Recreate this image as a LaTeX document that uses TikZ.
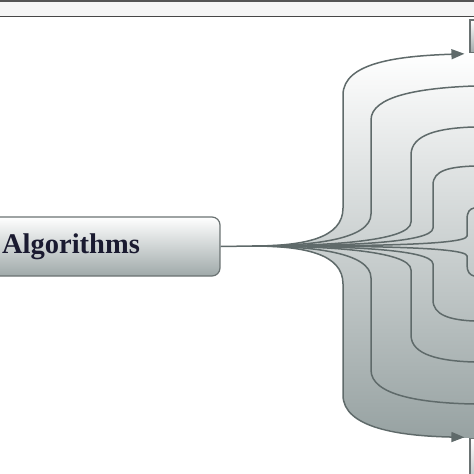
\documentclass[tikz,border=0pt]{standalone}
\usepackage{fontspec}
\setmainfont{Liberation Serif}
\usetikzlibrary{arrows.meta}
\definecolor{linegray}{HTML}{5F6A6A}
\definecolor{boxborder}{HTML}{6A7272}
\definecolor{boxgray}{HTML}{9FA9A9}
\definecolor{fillgray}{HTML}{97A2A2}
\definecolor{fillmid}{HTML}{DDE2E2}
\definecolor{textnavy}{HTML}{1A1A30}
\tikzset{
  algbox/.style={rectangle, rounded corners=8pt, draw=boxborder, line width=1.2pt,
    top color=white, bottom color=boxgray, text=textnavy, inner sep=0pt},
  leafbox/.style={rectangle, draw=boxborder, line width=1.2pt,
    top color=white, bottom color=boxgray, inner sep=0pt},
  conn/.style={draw=linegray, line width=1.5pt},
  arr/.style={conn, -{Triangle[length=13pt,width=10pt]}, shorten >=5pt},
}
\begin{document}
\begin{tikzpicture}[x=1pt,y=-1pt]
\useasboundingbox (0,0) rectangle (474,474);
\clip (0,0) rectangle (474,474);
% top strip
\fill[black!67] (0,0) rectangle (474,2);
\fill[black!4] (0,2) rectangle (474,16);
\draw[black!72, line width=1pt] (0,16.5) -- (474,16.5);
% nodes
\node[algbox, minimum width=298pt, minimum height=59pt,
  font=\fontsize{28.5}{34}\selectfont\bfseries] (alg) at (71,246.5) {\raisebox{2pt}{Algorithms}};
\node[leafbox, minimum width=60pt, minimum height=33pt] (t1) at (500,36.5) {};
\node[leafbox, minimum width=60pt, minimum height=60pt] (t2) at (500,468) {};
\coordinate (fan) at (252,246);
\coordinate (e2) at (474,86);
\coordinate (e3) at (474,127);
\coordinate (e4) at (474,166);
\coordinate (e5) at (474,208);
\coordinate (f2) at (474,404);
\coordinate (f3) at (474,362);
\coordinate (f4) at (474,321);
\coordinate (f5) at (474,276);
% gradient fill of the fan
\shade[top color=white, middle color=fillmid, bottom color=fillgray]
  (fan) .. controls (305,246) and (343,238) .. (343,208) -- (343,95)
  .. controls (343,62) and (400,56) .. (470,53) -- (474,53) -- (474,438) -- (470,438)
  .. controls (400,436) and (343,428) .. (343,395) -- (343,284)
  .. controls (343,254) and (305,246) .. (fan) -- cycle;
% connectors
\draw[conn] (alg.east) -- (fan);
\draw[arr] (fan) .. controls (305,246) and (343,238) .. (343,208) -- (343,95)
  .. controls (343,62) and (400,56) .. (t1.south west);
\draw[conn] (fan) .. controls (310,246) and (371,240) .. (371,214) -- (371,120)
  .. controls (371,96) and (420,88) .. (e2);
\draw[conn] (fan) .. controls (320,246) and (411,242) .. (411,222) -- (411,155)
  .. controls (411,134) and (440,128) .. (e3);
\draw[conn] (fan) .. controls (330,246) and (433,244) .. (433,228) -- (433,185)
  .. controls (433,170) and (450,167) .. (e4);
\draw[conn] (fan) .. controls (340,246) and (467,246) .. (467,236) -- (467,220)
  .. controls (467,211) and (470,209) .. (e5);
\draw[arr] (fan) .. controls (305,246) and (343,254) .. (343,284) -- (343,395)
  .. controls (343,428) and (400,436) .. (t2.north west);
\draw[conn] (fan) .. controls (310,246) and (371,252) .. (371,278) -- (371,370)
  .. controls (371,395) and (420,403) .. (f2);
\draw[conn] (fan) .. controls (320,246) and (411,250) .. (411,270) -- (411,335)
  .. controls (411,355) and (440,361) .. (f3);
\draw[conn] (fan) .. controls (330,246) and (433,248) .. (433,264) -- (433,300)
  .. controls (433,315) and (450,320) .. (f4);
\draw[conn] (fan) .. controls (340,246) and (467,246) .. (467,256) -- (467,265)
  .. controls (467,272) and (470,275) .. (f5);
\end{tikzpicture}
\end{document}
